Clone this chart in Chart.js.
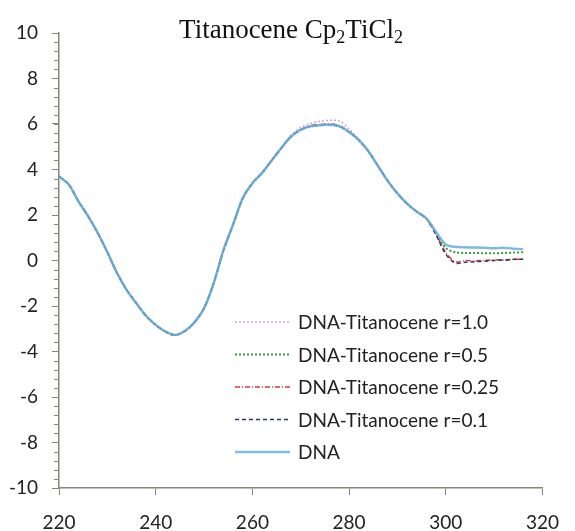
<!DOCTYPE html>
<html>
<head>
<meta charset="utf-8">
<script src="https://cdn.jsdelivr.net/npm/chart.js@4"></script>
<style>
  html, body { margin: 0; padding: 0; background: #fff; overflow: hidden; }
  canvas { display: block; }
</style>
</head>
<body>
<canvas id="cdChart" width="575" height="531"></canvas>
<script>
// wavelength (nm)
const wavelengths = [
  220, 222, 224, 226, 228, 230, 232, 234, 236, 238,
  240, 242, 244, 246, 248, 250, 252, 254, 256, 258,
  260, 262, 264, 266, 268, 270, 272, 274, 276, 278,
  280, 282, 284, 286, 288, 290, 292, 294, 296, 298,
  300, 302, 304, 306, 308, 310, 312, 314, 316
];

// ellipticity
const dnaTi10 = [
  3.68, 3.33, 2.62, 1.97, 1.22, 0.38, -0.53, -1.28, -1.87, -2.42,
  -2.83, -3.12, -3.27, -3.10, -2.72, -2.08, -0.98, 0.44, 1.58, 2.74,
  3.40, 3.86, 4.42, 4.97, 5.50, 5.85, 6.02, 6.12, 6.16, 6.13,
  5.78, 5.33, 4.80, 4.14, 3.49, 2.94, 2.50, 2.14, 1.84, 1.26,
  0.68, 0.58, 0.57, 0.56, 0.55, 0.54, 0.55, 0.52, 0.50
];
const dnaTi05 = [
  3.70, 3.34, 2.60, 1.95, 1.20, 0.36, -0.55, -1.30, -1.88, -2.43,
  -2.84, -3.13, -3.28, -3.11, -2.73, -2.10, -1.00, 0.42, 1.56, 2.72,
  3.38, 3.84, 4.40, 4.94, 5.44, 5.74, 5.89, 5.94, 5.96, 5.89,
  5.64, 5.29, 4.79, 4.14, 3.49, 2.94, 2.49, 2.14, 1.84, 1.22,
  0.55, 0.36, 0.33, 0.33, 0.32, 0.32, 0.33, 0.35, 0.36
];
const dnaTi025 = [
  3.69, 3.35, 2.61, 1.96, 1.21, 0.37, -0.54, -1.29, -1.89, -2.44,
  -2.84, -3.12, -3.27, -3.10, -2.72, -2.09, -0.99, 0.43, 1.57, 2.73,
  3.39, 3.85, 4.41, 4.95, 5.45, 5.76, 5.92, 5.98, 6.00, 5.93,
  5.66, 5.30, 4.80, 4.15, 3.50, 2.95, 2.50, 2.14, 1.83, 1.15,
  0.35, -0.06, 0.00, -0.02, 0.01, 0.03, 0.02, 0.05, 0.05
];
const dnaTi01 = [
  3.70, 3.35, 2.62, 1.96, 1.23, 0.37, -0.54, -1.29, -1.88, -2.43,
  -2.83, -3.13, -3.28, -3.11, -2.73, -2.09, -0.99, 0.44, 1.58, 2.74,
  3.40, 3.85, 4.40, 4.95, 5.45, 5.75, 5.90, 5.95, 5.97, 5.90,
  5.65, 5.30, 4.80, 4.15, 3.50, 2.95, 2.50, 2.15, 1.84, 1.12,
  0.28, -0.12, -0.08, -0.05, -0.03, 0.00, 0.02, 0.05, 0.05
];
const dna = [
  3.70, 3.35, 2.60, 1.95, 1.22, 0.36, -0.55, -1.30, -1.88, -2.43,
  -2.83, -3.12, -3.27, -3.10, -2.72, -2.10, -1.00, 0.45, 1.58, 2.75,
  3.40, 3.85, 4.40, 4.95, 5.45, 5.75, 5.90, 5.95, 5.97, 5.90,
  5.65, 5.30, 4.80, 4.15, 3.50, 2.95, 2.50, 2.15, 1.85, 1.25,
  0.70, 0.60, 0.58, 0.57, 0.56, 0.54, 0.56, 0.52, 0.50
];

const seriesLabels = [
  'DNA-Titanocene r=1.0',
  'DNA-Titanocene r=0.5',
  'DNA-Titanocene r=0.25',
  'DNA-Titanocene r=0.1',
  'DNA'
];
const titleParts = [['Titanocene Cp', false], ['2', true], ['TiCl', false], ['2', true]];

const xTicks = [220, 240, 260, 280, 300, 320];

const axisColor = '#8a847c';
const labelFont = { family: 'Lato', size: 19 };

const toPoints = ys => ys.map((y, i) => ({ x: wavelengths[i], y: y }));

// title with subscripts
const titlePlugin = {
    id: 'subTitle',
    afterDraw(chart) {
        const ctx = chart.ctx;
        ctx.save();
        ctx.fillStyle = '#111';
        ctx.textBaseline = 'alphabetic';
        const big = '27px "Liberation Serif"';
        const small = '18px "Liberation Serif"';
        let total = 0;
        titleParts.forEach(([t, sub]) => {
            ctx.font = sub ? small : big;
            total += ctx.measureText(t).width;
        });
        let x = 291 - total / 2;
        titleParts.forEach(([t, sub]) => {
            ctx.font = sub ? small : big;
            ctx.fillText(t, x, sub ? 43 : 38);
            x += ctx.measureText(t).width;
        });
        ctx.restore();
    }
};

// minor ticks on the y axis
const minorTicks = {
    id: 'minorTicks',
    afterDraw(chart) {
        const ctx = chart.ctx;
        const y = chart.scales.y;
        const left = chart.chartArea.left;
        ctx.save();
        ctx.strokeStyle = axisColor;
        ctx.lineWidth = 1;
        for (let v = -10; v <= 10.001; v += 0.4) {
            const py = Math.round(y.getPixelForValue(v)) + 0.5;
            ctx.beginPath();
            ctx.moveTo(left - 5, py);
            ctx.lineTo(left, py);
            ctx.stroke();
        }
        ctx.restore();
    }
};

// legend inside the plot
const innerLegend = {
    id: 'innerLegend',
    afterDraw(chart) {
        const ctx = chart.ctx;
        ctx.save();
        ctx.font = '19px Lato';
        ctx.textBaseline = 'middle';
        chart.data.datasets.forEach((ds, i) => {
            const cy = 322 + i * 32.5;
            ctx.strokeStyle = ds.borderColor;
            ctx.lineWidth = ds.borderWidth;
            ctx.setLineDash(ds.borderDash || []);
            ctx.beginPath();
            ctx.moveTo(235, cy);
            ctx.lineTo(290, cy);
            ctx.stroke();
            ctx.setLineDash([]);
            ctx.fillStyle = '#222';
            ctx.fillText(ds.label, 298, cy + 1);
        });
        ctx.restore();
    }
};

new Chart(document.getElementById('cdChart').getContext('2d'), {
    type: 'line',
    data: {
        datasets: [
            {
                label: seriesLabels[0],
                data: toPoints(dnaTi10),
                borderColor: '#c9a6d0',
                borderWidth: 1.5,
                borderDash: [2, 2],
                order: 5
            },
            {
                label: seriesLabels[1],
                data: toPoints(dnaTi05),
                borderColor: '#3c9a3c',
                borderWidth: 2,
                borderDash: [2, 2],
                order: 3
            },
            {
                label: seriesLabels[2],
                data: toPoints(dnaTi025),
                borderColor: '#d23a3a',
                borderWidth: 1.5,
                borderDash: [5, 2, 1, 2],
                order: 2
            },
            {
                label: seriesLabels[3],
                data: toPoints(dnaTi01),
                borderColor: '#2e3560',
                borderWidth: 1.5,
                borderDash: [4, 3],
                order: 1
            },
            {
                label: seriesLabels[4],
                data: toPoints(dna),
                borderColor: 'rgba(107,180,224,0.85)',
                borderWidth: 2.5,
                order: 0
            }
        ]
    },
    options: {
        responsive: false,
        animation: false,
        layout: { padding: { top: 33, right: 20, left: 0, bottom: 0 } },
        elements: {
            point: { radius: 0 },
            line: { tension: 0.3, fill: false }
        },
        plugins: {
            legend: { display: false },
            title: { display: false },
            tooltip: { enabled: false }
        },
        scales: {
            x: {
                type: 'linear',
                min: 220,
                max: 320,
                afterBuildTicks: axis => { axis.ticks = xTicks.map(v => ({ value: v })); },
                afterFit: axis => { axis.height = 43; },
                border: { color: axisColor, width: 1.5 },
                grid: { drawOnChartArea: false, color: axisColor, tickLength: 7 },
                ticks: { font: labelFont, color: '#222', padding: 16, maxRotation: 0 }
            },
            y: {
                min: -10,
                max: 10,
                afterFit: axis => { axis.width = 59; },
                border: { color: axisColor, width: 1.5 },
                grid: { drawOnChartArea: false, color: axisColor, tickLength: 7 },
                ticks: { stepSize: 2, font: labelFont, color: '#222', padding: 14 }
            }
        }
    },
    plugins: [titlePlugin, minorTicks, innerLegend]
});
</script>
</body>
</html>
